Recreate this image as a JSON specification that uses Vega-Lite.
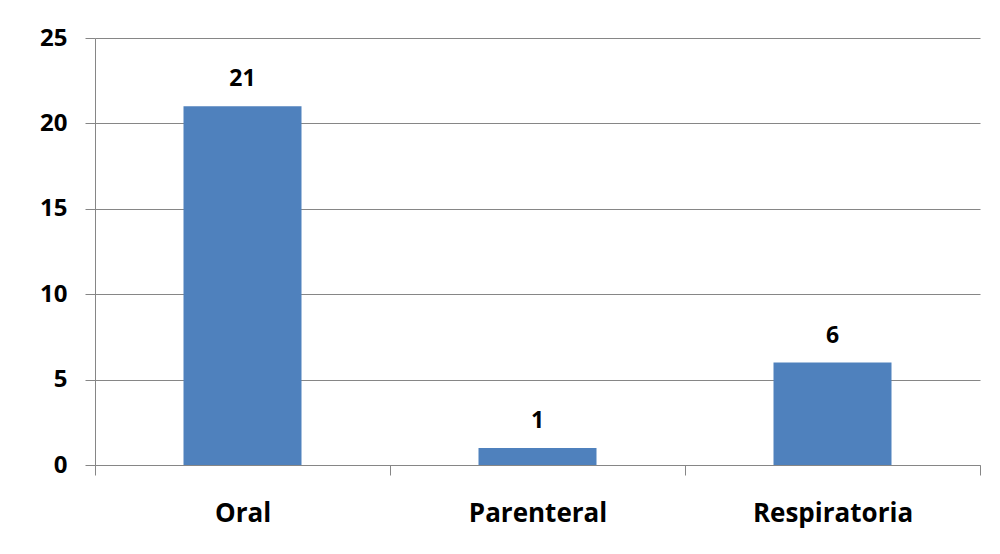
{
  "$schema": "https://vega.github.io/schema/vega-lite/v6.json",
  "autosize": {"type": "none"},
  "width": 885,
  "height": 427,
  "padding": {"left": 95, "top": 38, "right": 20, "bottom": 89},
  "background": "white",
  "config": {
    "view": {"stroke": null},
    "font": "Open Sans"
  },
  "data": {
    "values": [
      {"via": "Oral", "n": 21},
      {"via": "Parenteral", "n": 1},
      {"via": "Respiratoria", "n": 6}
    ]
  },
  "encoding": {
    "x": {
      "field": "via",
      "type": "nominal",
      "sort": null,
      "scale": {"paddingInner": 0, "paddingOuter": 0},
      "axis": {
        "title": null,
        "labelAngle": 0,
        "tickBand": "extent",
        "tickSize": 10,
        "tickColor": "#868686",
        "domainColor": "#868686",
        "labelFont": "Open Sans",
        "labelFontWeight": "bold",
        "labelFontSize": 26,
        "labelColor": "#000000",
        "labelPadding": 25,
        "grid": false
      }
    },
    "y": {
      "field": "n",
      "type": "quantitative",
      "scale": {"domain": [0, 25], "nice": false},
      "axis": {
        "title": null,
        "values": [0, 5, 10, 15, 20, 25],
        "tickSize": 10,
        "tickColor": "#868686",
        "domainColor": "#868686",
        "gridColor": "#868686",
        "grid": true,
        "labelFont": "Open Sans",
        "labelFontWeight": "bold",
        "labelFontSize": 24,
        "labelColor": "#000000",
        "labelPadding": 18
      }
    }
  },
  "layer": [
    {"mark": {"type": "bar", "color": "#4F81BD", "width": {"band": 0.4}}},
    {
      "mark": {"type": "text", "dy": -27, "font": "Open Sans", "fontWeight": "bold", "fontSize": 23, "color": "#000000"},
      "encoding": {"text": {"field": "n", "type": "quantitative"}}
    }
  ]
}
